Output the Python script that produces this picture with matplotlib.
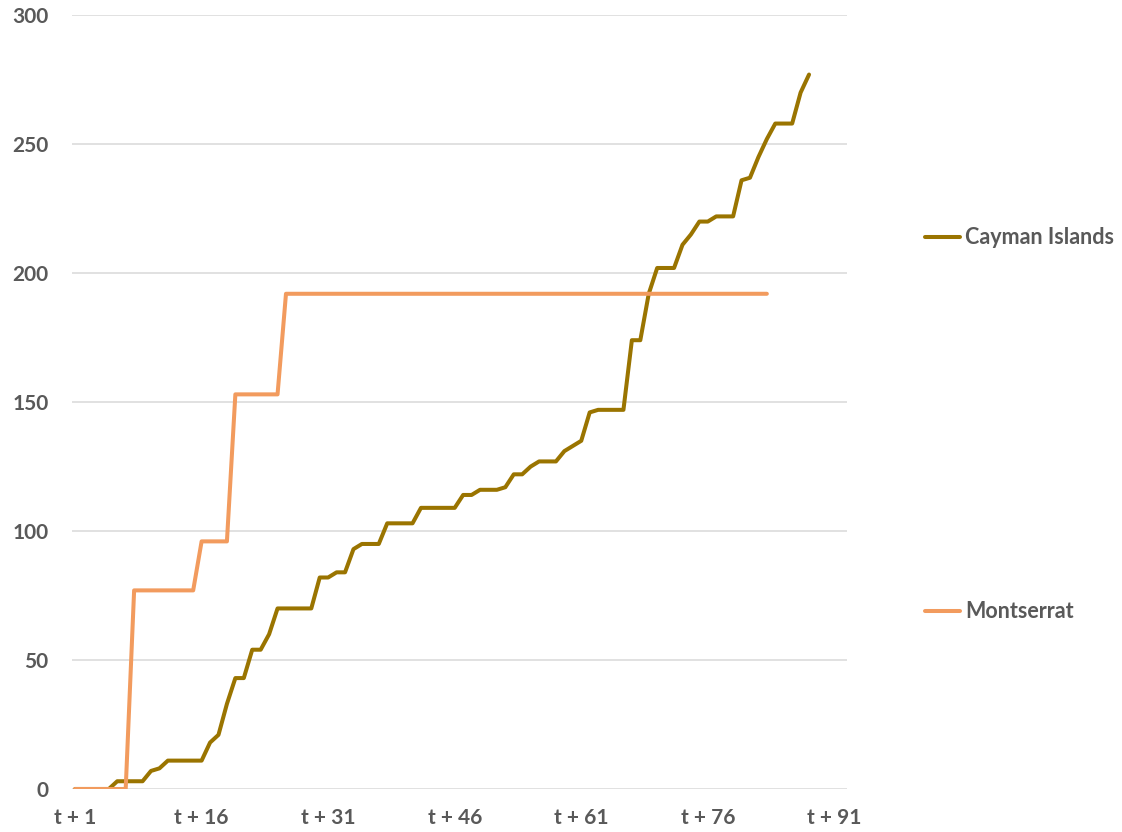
import matplotlib.pyplot as plt

# values, one per period starting at t + 1
cayman = [0, 0, 0, 0, 0, 3, 3, 3, 3, 7,
          8, 11, 11, 11, 11, 11, 18, 21, 33, 43,
          43, 54, 54, 60, 70, 70, 70, 70, 70, 82,
          82, 84, 84, 93, 95, 95, 95, 103, 103, 103,
          103, 109, 109, 109, 109, 109, 114, 114, 116, 116,
          116, 117, 122, 122, 125, 127, 127, 127, 131, 133,
          135, 146, 147, 147, 147, 147, 174, 174, 192, 202,
          202, 202, 211, 215, 220, 220, 222, 222, 222, 236,
          237, 245, 252, 258, 258, 258, 270, 277]
montserrat = [0, 0, 0, 0, 0, 0, 0, 77, 77, 77,
              77, 77, 77, 77, 77, 96, 96, 96, 96, 153,
              153, 153, 153, 153, 153, 192, 192, 192, 192, 192,
              192, 192, 192, 192, 192, 192, 192, 192, 192, 192,
              192, 192, 192, 192, 192, 192, 192, 192, 192, 192,
              192, 192, 192, 192, 192, 192, 192, 192, 192, 192,
              192, 192, 192, 192, 192, 192, 192, 192, 192, 192,
              192, 192, 192, 192, 192, 192, 192, 192, 192, 192,
              192, 192, 192]
tick_steps = [1, 16, 31, 46, 61, 76, 91]
y_ticks = [0, 50, 100, 150, 200, 250, 300]

text_color = '#595959'
plt.rcParams['font.family'] = ['Lato', 'DejaVu Sans']
plt.rcParams['font.weight'] = 'bold'

fig = plt.figure(figsize=(11.22, 8.32), dpi=100)
ax = fig.add_axes([0.0642, 0.0517, 0.6907, 0.930])

x_cay = list(range(1, len(cayman) + 1))
x_mon = list(range(1, len(montserrat) + 1))
ax.plot(x_cay, cayman, color='#9A7400', linewidth=2.9,
        solid_joinstyle='round', solid_capstyle='round', label='Cayman Islands')
ax.plot(x_mon, montserrat, color='#F29B5E', linewidth=2.9,
        solid_joinstyle='round', solid_capstyle='round', label='Montserrat')

ax.set_xlim(0.64, 92.5)
ax.set_ylim(0, 300)
ax.set_xticks(tick_steps)
ax.set_xticklabels(['t + %d' % t for t in tick_steps])
ax.set_yticks(y_ticks)
ax.grid(axis='y', color='#D9D9D9', linewidth=1.1)
ax.set_axisbelow(True)
for side in ['top', 'right', 'left', 'bottom']:
    ax.spines[side].set_visible(False)
ax.tick_params(axis='both', length=0, labelsize=15, labelcolor=text_color)
ax.tick_params(axis='y', pad=17)
ax.tick_params(axis='x', pad=14)
for lbl in ax.get_xticklabels() + ax.get_yticklabels():
    lbl.set_fontweight('bold')

leg = ax.legend(loc='upper left', bbox_to_anchor=(1.09, 0.737), frameon=False,
                fontsize=15.5, labelspacing=16.4, handlelength=1.6,
                handletextpad=0.25, borderaxespad=0)
for t in leg.get_texts():
    t.set_color(text_color)
    t.set_fontweight('bold')

plt.savefig('out.png', dpi=100)
